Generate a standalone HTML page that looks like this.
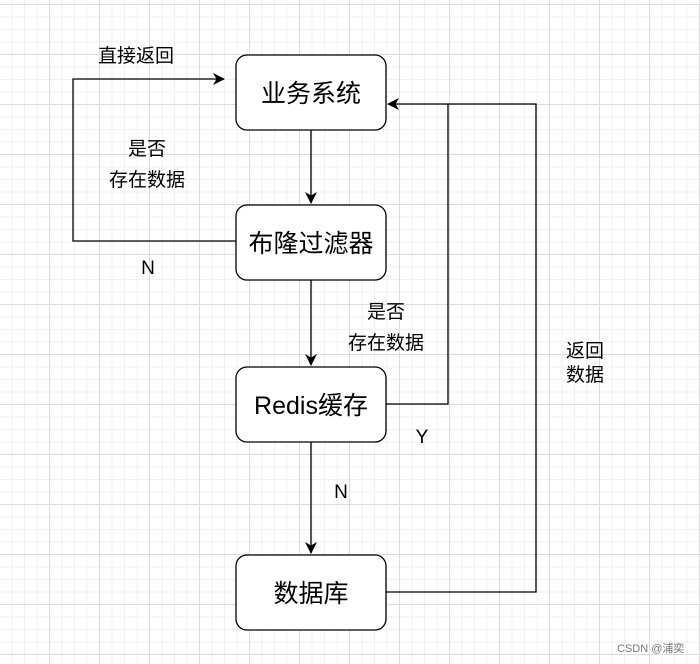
<!DOCTYPE html>
<html><head><meta charset="utf-8"><style>
body{margin:0;width:700px;height:664px;overflow:hidden;background:#fff;
background-image:
linear-gradient(#dcdcdc 1px,transparent 1px),linear-gradient(90deg,#dcdcdc 1px,transparent 1px),
linear-gradient(#f0f0f0 1px,transparent 1px),linear-gradient(90deg,#f0f0f0 1px,transparent 1px);
background-size:50px 50px,50px 50px,12.5px 12.5px,12.5px 12.5px;
background-position:-1px 4px,-1px 4px,-1px 4px,-1px 4px;}
svg{position:absolute;left:0;top:0}
text{font-family:"Liberation Sans","Noto Sans CJK SC",sans-serif;fill:#000}
</style></head><body>
<svg width="700" height="664" viewBox="0 0 700 664">
<defs><marker id="a" markerWidth="12" markerHeight="12" refX="11" refY="6" orient="auto" markerUnits="userSpaceOnUse"><path d="M0,0 L12,6 L0,12 L3.5,6 Z" fill="#000"/></marker></defs>
<g fill="#fff" stroke="#000" stroke-width="1.3">
<rect x="236" y="55" width="150" height="75" rx="11"/>
<rect x="236" y="205" width="150" height="75" rx="11"/>
<rect x="236" y="367" width="150" height="75" rx="11"/>
<rect x="236" y="555" width="150" height="75" rx="11"/>
</g>
<g fill="none" stroke="#000" stroke-width="1.3">
<path d="M311 130 V203" marker-end="url(#a)"/>
<path d="M311 280 V365" marker-end="url(#a)"/>
<path d="M311 442 V553" marker-end="url(#a)"/>
<path d="M236 241 H73 V79 H224" marker-end="url(#a)"/>
<path d="M386 404 H448 V104 H388" marker-end="url(#a)"/>
<path d="M386 592 H536 V104 H448"/>
</g>
<g font-size="25" text-anchor="middle">
<text x="311" y="102">业务系统</text>
<text x="311" y="252">布隆过滤器</text>
<text x="311" y="414">Redis缓存</text>
<text x="311" y="602">数据库</text>
</g>
<g font-size="19" text-anchor="middle">
<text x="136" y="62">直接返回</text>
<text x="147" y="155">是否</text>
<text x="147" y="186">存在数据</text>
<text x="148" y="274">N</text>
<text x="386" y="318">是否</text>
<text x="386" y="349">存在数据</text>
<text x="422" y="443">Y</text>
<text x="341" y="498">N</text>
<text x="585" y="357">返回</text>
<text x="585" y="381">数据</text>
</g>
<text x="617" y="652" font-size="11" style="fill:#777">CSDN @浦奕</text>
</svg>
</body></html>
